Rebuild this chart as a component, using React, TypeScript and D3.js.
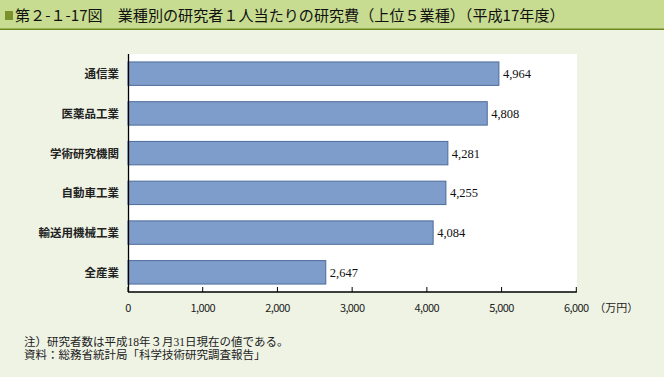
import React from "react";
import * as d3 from "d3";

const categories = ["通信業", "医薬品工業", "学術研究機関", "自動車工業", "輸送用機械工業", "全産業"];
const values = [4964, 4808, 4281, 4255, 4084, 2647];
const xTicks = [0, 1000, 2000, 3000, 4000, 5000, 6000];
const title = "第２-１-17図　業種別の研究者１人当たりの研究費（上位５業種）（平成17年度）";
const unitLabel = "（万円）";
const notes = ["注）研究者数は平成18年３月31日現在の値である。", "資料：総務省統計局「科学技術研究調査報告」"];

export default function App() {
  const W = 664, H = 377;
  const left = 128, right = 577, top = 54, bottom = 292;
  const x = d3.scaleLinear().domain([0, 6000]).range([left, 576.3]);
  const y = d3.scaleBand<string>().domain(categories).range([top, bottom]).paddingInner(0.41).paddingOuter(0.2);
  const fmt = d3.format(",");
  const sans = "'Noto Sans CJK JP', 'Noto Sans', sans-serif";
  const serif = "'Liberation Serif', 'DejaVu Serif', 'Noto Sans CJK JP', serif";
  return (
    <svg width={W} height={H} style={{ position: "absolute", left: 0, top: 0, display: "block" }}>
      <rect x={0} y={0} width={W} height={H} fill="#eef3e4" />
      <rect x={0} y={0} width={W} height={29} fill="#c7dc90" />
      <rect x={0} y={28.5} width={W} height={1.5} fill="#6f8a1c" />
      <rect x={5} y={11} width={8} height={9} fill="#7b8f2c" />
      <text x={15} y={21} fontFamily={sans} fontSize={15.1} fill="#111">{title}</text>
      <rect x={left} y={top} width={right - left} height={bottom - top} fill="#ffffff" />
      {categories.map((c, i) => (
        <g key={c}>
          <rect x={x(0)} y={y(c)!} width={x(values[i]) - x(0)} height={y.bandwidth()} fill="#7f9dca" stroke="#4d6b9a" strokeWidth={1} />
          <text x={x(values[i]) + 4} y={y(c)! + y.bandwidth() / 2 + 4.5} fontFamily={serif} fontSize={12.5} fill="#111">{fmt(values[i])}</text>
          <text x={119} y={y(c)! + y.bandwidth() / 2 + 4.5} textAnchor="end" fontFamily={sans} fontWeight={700} fontSize={11.5} fill="#222">{c}</text>
        </g>
      ))}
      <line x1={left + 0.5} x2={left + 0.5} y1={top} y2={bottom} stroke="#000" strokeWidth={1.3} />
      <line x1={left} x2={x(6000) + 0.5} y1={bottom} y2={bottom} stroke="#000" strokeWidth={1.3} />
      {xTicks.map((t) => (
        <g key={t}>
          <line x1={x(t)} x2={x(t)} y1={bottom} y2={bottom - 5} stroke="#000" strokeWidth={1} />
          <text x={x(t)} y={312} textAnchor="middle" fontFamily={sans} fontSize={11} letterSpacing={-0.6} fill="#222">{fmt(t)}</text>
        </g>
      ))}
      <text x={x(6000) + 18} y={312} fontFamily={sans} fontSize={11} fill="#222">{unitLabel}</text>
      {notes.map((n, i) => (
        <text key={i} x={24} y={346 + i * 13} fontFamily={serif} fontSize={11.5} fill="#222">{n}</text>
      ))}
    </svg>
  );
}
